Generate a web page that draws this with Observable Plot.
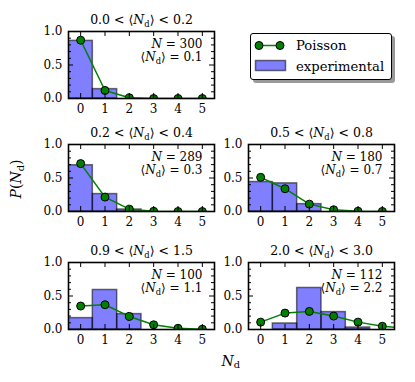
<!DOCTYPE html>
<html>
<head>
<meta charset="utf-8">
<script src="https://cdn.jsdelivr.net/npm/d3@7"></script>
<script src="https://cdn.jsdelivr.net/npm/@observablehq/plot@0.6"></script>
<style>
  html, body { margin: 0; padding: 0; background: white; }
  #chart { position: relative; width: 415px; height: 382px; overflow: hidden; font-family: "DejaVu Serif"; }
  #chart svg.panel { position: absolute; overflow: visible; }
  #chart svg text { font-family: "DejaVu Serif" !important; }
  .lbl { position: absolute; font-size: 14px; white-space: nowrap; }
  .lbl sub { font-size: 70%; vertical-align: -0.25em; line-height: 0; font-style: normal; }
  #legend { position: absolute; left: 250px; top: 33px; width: 142px; height: 47px; box-sizing: border-box;
            border: 1.5px solid #000; border-radius: 3px; background: white; box-shadow: 3px 3px 0 #999; }
</style>
</head>
<body>
<div id="chart"></div>
<script>
// ---- data ----
const nd = [0, 1, 2, 3, 4, 5];
const titles = ["0.0 < ⟨N_d⟩ < 0.2", "0.2 < ⟨N_d⟩ < 0.4", "0.5 < ⟨N_d⟩ < 0.8", "0.9 < ⟨N_d⟩ < 1.5", "2.0 < ⟨N_d⟩ < 3.0"];
const sampleSizes = [300, 289, 180, 100, 112];
const meanNd = ["0.1", "0.3", "0.7", "1.1", "2.2"];
const experimental = [
  [0.86, 0.14, 0.0, 0.0, 0.0, 0.0],
  [0.69, 0.26, 0.03, 0.0, 0.0, 0.0],
  [0.44, 0.42, 0.11, 0.0, 0.0, 0.0],
  [0.17, 0.59, 0.23, 0.0, 0.0, 0.0],
  [0.0, 0.09, 0.62, 0.26, 0.03, 0.0]
];
const poissonNd = [0, 1, 2, 3, 4, 5, 6];
const poisson = [
  [0.87, 0.12, 0.01, 0.0, 0.0, 0.0],
  [0.715, 0.215, 0.035, 0.003, 0.0, 0.0],
  [0.51, 0.34, 0.11, 0.026, 0.004, 0.001],
  [0.35, 0.37, 0.195, 0.07, 0.018, 0.004],
  [0.11, 0.245, 0.27, 0.2, 0.11, 0.048, 0.018]
];
const yTicks = [0, 0.5, 1];
const yMinor = [0.1, 0.2, 0.3, 0.4, 0.6, 0.7, 0.8, 0.9];

// ---- layout ----
const FW = 146, FH = 67;
const ML = 45, MR = 12, MT = 32, MB = 28;
const colLeft = [67.5, 248.2];
const rowTop = [30.8, 144.4, 261.7];
const cells = [[0, 0], [1, 0], [1, 1], [2, 0], [2, 1]];
const FS = 12;
const FONT = "DejaVu Serif";

function richify(svg) {
  svg.querySelectorAll("text").forEach(el => {
    const s = el.textContent;
    if (!/N/.test(s)) return;
    const fs = parseFloat(el.getAttribute("font-size")) || FS;
    while (el.firstChild) el.removeChild(el.firstChild);
    const ns = "http://www.w3.org/2000/svg";
    let shifted = false;
    s.split(/(N_d|N)/).filter(p => p !== "").forEach(p => {
      const add = (txt, attrs) => {
        const t = document.createElementNS(ns, "tspan");
        t.textContent = txt;
        for (const k in attrs) t.setAttribute(k, attrs[k]);
        if (shifted && !attrs.dy) { t.setAttribute("dy", -0.25 * fs); shifted = false; }
        el.appendChild(t);
        return t;
      };
      if (p === "N_d") {
        add("N", {"font-style": "italic"});
        add("d", {"font-size": fs * 0.7, dy: 0.25 * fs});
        shifted = true;
      } else if (p === "N") {
        add("N", {"font-style": "italic"});
      } else {
        add(p, {});
      }
    });
  });
}

const chart = document.getElementById("chart");

titles.forEach((title, i) => {
  const bars = nd.map((n, j) => ({n, p: experimental[i][j]}));
  const pts = poisson[i].map((p, j) => ({n: poissonNd[j], p}));
  const svg = Plot.plot({
    width: ML + FW + MR,
    height: MT + FH + MB,
    marginLeft: ML, marginRight: MR, marginTop: MT, marginBottom: MB,
    x: {domain: [-0.5, 5.5]},
    y: {domain: [0, 1]},
    style: {background: "transparent", fontFamily: FONT, fontSize: FS + "px", color: "black", overflow: "visible"},
    marks: [
      Plot.rect(bars, {x1: d => d.n - 0.5, x2: d => d.n + 0.5, y1: 0, y2: "p",
        fill: "blue", fillOpacity: 0.5, stroke: "black", strokeOpacity: 0.55, strokeWidth: 1.5, clip: true}),
      Plot.line(pts, {x: "n", y: "p", stroke: "green", strokeWidth: 1.5, clip: true}),
      Plot.dot(pts, {x: "n", y: "p", r: 4, fill: "green", stroke: "black", strokeWidth: 1, clip: true}),
      Plot.tickX(nd, {x: d => d, insetTop: FH - 5, stroke: "black", strokeWidth: 1}),
      Plot.tickX(nd, {x: d => d, insetBottom: FH - 5, stroke: "black", strokeWidth: 1}),
      Plot.tickY(yTicks, {y: d => d, insetRight: FW - 5, stroke: "black", strokeWidth: 1}),
      Plot.tickY(yTicks, {y: d => d, insetLeft: FW - 5, stroke: "black", strokeWidth: 1}),
      Plot.tickY(yMinor, {y: d => d, insetRight: FW - 3, stroke: "black", strokeWidth: 1}),
      Plot.tickY(yMinor, {y: d => d, insetLeft: FW - 3, stroke: "black", strokeWidth: 1}),
      Plot.frame({stroke: "black", strokeWidth: 1.6}),
      Plot.axisX({ticks: nd, tickFormat: d3.format("d"), tickSize: 0, tickPadding: 6, label: null, fontSize: FS, fontFamily: FONT}),
      Plot.axisY({ticks: yTicks, tickFormat: d3.format(".1f"), tickSize: 0, tickPadding: 6, label: null, fontSize: FS, fontFamily: FONT}),
      Plot.text([title], {frameAnchor: "top", dy: -12, lineAnchor: "middle", text: d => d, fontSize: 12.5, fontFamily: FONT}),
      Plot.text([`N = ${sampleSizes[i]}`], {frameAnchor: "top-right", dx: -12, dy: 12.5, lineAnchor: "middle", textAnchor: "end", text: d => d, fontSize: FS, fontFamily: FONT}),
      Plot.text([`⟨N_d⟩ = ${meanNd[i]}`], {frameAnchor: "top-right", dx: -12, dy: 25.5, lineAnchor: "middle", textAnchor: "end", text: d => d, fontSize: FS, fontFamily: FONT})
    ]
  });
  svg.classList.add("panel");
  const [r, c] = cells[i];
  svg.style.left = (colLeft[c] - ML) + "px";
  svg.style.top = (rowTop[r] - MT) + "px";
  svg.style.maxWidth = "none";
  richify(svg);
  chart.appendChild(svg);
});

// axis labels
const ylab = document.createElement("div");
ylab.className = "lbl";
ylab.innerHTML = "<i>P</i>(<i>N</i><sub>d</sub>)";
chart.appendChild(ylab);
const yw = ylab.offsetWidth, yh = ylab.offsetHeight;
ylab.style.left = (16 - yw / 2) + "px";
ylab.style.top = (179 - yh / 2) + "px";
ylab.style.transform = "rotate(-90deg)";

const xlab = document.createElement("div");
xlab.className = "lbl";
xlab.innerHTML = "<i>N</i><sub>d</sub>";
chart.appendChild(xlab);
xlab.style.left = (231 - xlab.offsetWidth / 2) + "px";
xlab.style.top = (361 - xlab.offsetHeight / 2) + "px";

// legend
const legend = document.createElement("div");
legend.id = "legend";
legend.innerHTML = `
<svg width="140" height="44" style="position:absolute;left:0;top:0;overflow:visible;font-size:13.2px">
  <line x1="8" x2="29" y1="11.5" y2="11.5" stroke="green" stroke-width="1.5"/>
  <circle cx="8" cy="11.5" r="4" fill="green" stroke="black"/>
  <circle cx="29" cy="11.5" r="4" fill="green" stroke="black"/>
  <text x="45" y="11.5" dy="0.35em">Poisson</text>
  <rect x="4.5" y="26.5" width="30" height="10" fill="blue" fill-opacity="0.5" stroke="black" stroke-opacity="0.55" stroke-width="1.5"/>
  <text x="45" y="32" dy="0.35em">experimental</text>
</svg>`;
chart.appendChild(legend);
</script>
</body>
</html>
